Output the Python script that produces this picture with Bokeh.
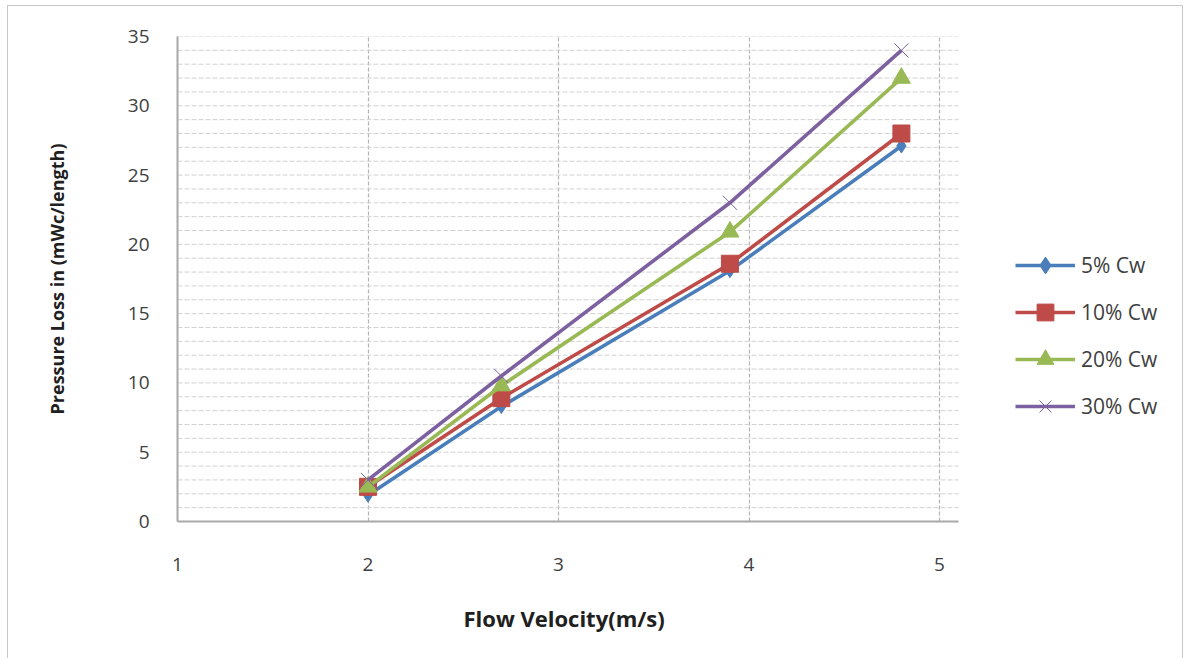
from bokeh.plotting import figure
from bokeh.models import Range1d, FixedTicker, Legend, LegendItem, Title
from bokeh.embed import file_html
from bokeh.resources import INLINE

# Flow velocity (m/s) and pressure loss (mWc/length) per concentration series
velocity = [2.0, 2.7, 3.9, 4.8]
loss_5 = [1.9, 8.3, 18.1, 27.1]
loss_10 = [2.5, 8.9, 18.6, 28.0]
loss_20 = [2.5, 9.8, 20.9, 32.0]
loss_30 = [3.0, 10.5, 23.0, 34.0]

series_labels = ["5% Cw", "10% Cw", "20% Cw", "30% Cw"]
x_ticks = [1, 2, 3, 4, 5]
y_ticks = [0, 5, 10, 15, 20, 25, 30, 35]

FONT = "Open Sans"
X_MIN, X_MAX = 1, 5.1          # extent of the plotted axis
PX_PER_UNIT = 190.5
FRAME_W = 1007                 # frame also holds the legend area on the right

p = figure(
    width=1176, height=655,
    output_backend="svg", toolbar_location=None,
    x_range=Range1d(X_MIN, X_MIN + FRAME_W / PX_PER_UNIT), y_range=Range1d(0, 35),
    min_border_left=169, min_border_right=0,
    min_border_top=30, min_border_bottom=140,
)
p.styles = {"border": "1px solid #c8c8c8", "margin-left": "7px", "margin-top": "5px"}
p.outline_line_color = None
p.background_fill_color = "white"

# axes
p.xaxis.ticker = FixedTicker(ticks=x_ticks)
p.xaxis.bounds = (X_MIN, X_MAX)
p.yaxis.ticker = FixedTicker(ticks=y_ticks)
for ax in (p.xaxis[0], p.yaxis[0]):
    ax.major_tick_line_color = None
    ax.minor_tick_line_color = None
    ax.axis_line_color = "#a8a8a8"
    ax.axis_line_width = 2
    ax.major_label_text_font = FONT
    ax.major_label_text_font_size = "19px"
    ax.major_label_text_color = "#404040"
    ax.axis_label_text_font = FONT
    ax.axis_label_text_font_style = "bold"
    ax.axis_label_text_color = "#202020"
p.yaxis.axis_label_text_font_size = "18px"
p.xaxis.major_label_standoff = 30
p.yaxis.major_label_standoff = 22
p.yaxis.axis_label_standoff = 56
p.yaxis.axis_label = "Pressure Loss in (mWc/length)"

# x-axis title, centred under the axis span rather than the whole frame
x_title = Title(
    text="Flow Velocity(m/s)", align="left", offset=286, standoff=55,
    text_font=FONT, text_font_size="22px", text_font_style="bold", text_color="#202020",
)
p.add_layout(x_title, "below")

# grid: vertical lines at the major x ticks, horizontal lines every unit
p.xgrid.ticker = FixedTicker(ticks=[2, 3, 4, 5])
p.xgrid.grid_line_color = "#b4b4b4"
p.xgrid.grid_line_dash = "4 2"
p.xgrid.grid_line_width = 1.2
p.ygrid.visible = False
grid_y = list(range(1, 36))
p.segment(x0=[X_MIN] * len(grid_y), x1=[X_MAX] * len(grid_y), y0=grid_y, y1=grid_y,
          line_color="#d2d2d2", line_dash="5 2", line_width=1)

colors = ["#4a7ebb", "#be4b48", "#98b954", "#7d60a0"]
markers = ["diamond", "square", "triangle", "x"]
sizes = [14, 17, 18, 20]
data = [loss_5, loss_10, loss_20, loss_30]

items = []
for label, ys, c, m, s in zip(series_labels, data, colors, markers, sizes):
    ln = p.line(velocity, ys, line_color=c, line_width=3.6)
    if m == "x":
        sc = p.scatter(velocity, ys, marker=m, size=s, line_color=c, line_width=1)
    else:
        sc = p.scatter(velocity, ys, marker=m, size=s, fill_color=c, line_color=c)
    items.append(LegendItem(label=label, renderers=[ln, sc]))

legend = Legend(
    items=items, location=(838, 94),
    glyph_width=60, glyph_height=42, label_height=20,
    label_standoff=6, spacing=5, padding=0, margin=0,
    label_text_font=FONT, label_text_font_size="21px", label_text_color="#404040",
    border_line_color=None, background_fill_alpha=0,
)
p.add_layout(legend, "center")

open("out.html", "w").write(file_html(p, INLINE))
